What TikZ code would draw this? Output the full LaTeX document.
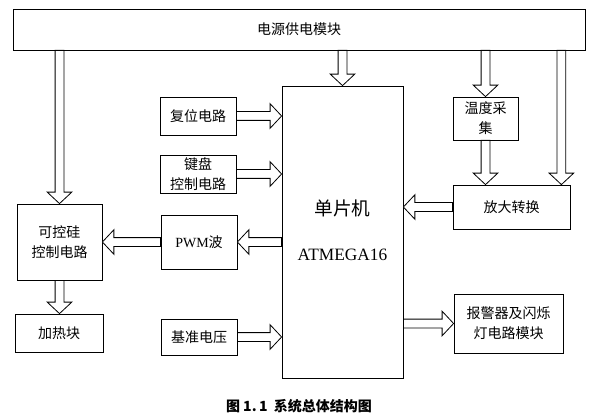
\documentclass[tikz,border=0pt]{standalone}
\usepackage{fontspec}
\newfontfamily\cjk{Noto Sans CJK SC}
\newfontfamily\lat{Liberation Serif}
\usetikzlibrary{calc}

\tikzset{
  blk/.style={draw, line width=0.6pt, align=center, inner sep=0pt},
  barrow/.style={draw, fill=white, line width=0.6pt, line join=miter}
}
% hollow block arrow from #1 to #2
\newcommand\bw{3.3pt}
\newcommand\bW{9.2pt}
\newcommand\bh{8.6pt}
\newcommand\barrow[2]{%
  \coordinate (ba) at (#1);
  \coordinate (bb) at (#2);
  \draw[barrow] ($(ba)!\bw!90:(bb)$) -- ($(bb)!\bh!(ba)!\bw!-90:(ba)$)
    -- ($(bb)!\bh!(ba)!\bW!-90:(ba)$) -- (bb)
    -- ($(bb)!\bh!(ba)!\bW!90:(ba)$) -- ($(bb)!\bh!(ba)!\bw!90:(ba)$)
    -- ($(ba)!\bw!-90:(bb)$) -- cycle;}

\begin{document}
\begin{tikzpicture}[x=0.75pt,y=-0.75pt,font=\fontsize{10.5}{15}\selectfont\cjk]
	\useasboundingbox (0,0) rectangle (596,417);
	\node[blk,minimum width=429pt,minimum height=30.75pt] (power) at (299,29.5) {电源供电模块};
	\node[blk,minimum width=90.75pt,minimum height=219pt] (mcu) at (342.5,232) {};
	\node[font=\fontsize{14}{16}\selectfont\cjk] (mcuname) at (342.5,208) {单片机};
	\node[font=\fontsize{13}{16}\selectfont\lat] (mcutype) at (342.5,255) {ATMEGA16};
	\node[blk,minimum width=57pt,minimum height=28.5pt] (reset) at (198,116) {复位电路};
	\node[blk,minimum width=57pt,minimum height=28.5pt] (keypad) at (198,174) {键盘\\控制电路};
	\node[blk,minimum width=57pt,minimum height=40.5pt] (pwm) at (199,242) {{\lat PWM}波};
	\node[blk,minimum width=57pt,minimum height=27pt] (vref) at (199,337) {基准电压};
	\node[blk,minimum width=63.75pt,minimum height=57pt] (scr) at (59.5,242) {可控硅\\控制电路};
	\node[blk,minimum width=66pt,minimum height=28.5pt] (heater) at (59,333) {加热块};
	\node[blk,minimum width=48.75pt,minimum height=32.25pt] (temp) at (485.5,118.5) {温度采\\集};
	\node[blk,minimum width=87.75pt,minimum height=33pt] (amp) at (511.5,207) {放大转换};
	\node[blk,minimum width=81.75pt,minimum height=44.25pt] (alarm) at (508.5,323.5) {报警器及闪烁\\灯电路模块};
	\node[font=\fontsize{10.5}{13}\selectfont\cjk\bfseries] (cap) at (299,406) {图\ 1.\,1\ \ 系统总体结构图};
	\coordinate (ampin) at ([xshift=-6.75pt]amp.north east);
	% power supply
	\barrow{power.south -| scr.north}{scr.north}
	\barrow{power.south -| mcu.north}{mcu.north}
	\barrow{power.south -| temp.north}{temp.north}
	\barrow{power.south -| ampin}{ampin}
	% inputs
	\barrow{temp.south}{temp.south |- amp.north}
	\barrow{amp.west}{amp.west -| mcu.east}
	\barrow{reset.east}{reset.east -| mcu.west}
	\barrow{keypad.east}{keypad.east -| mcu.west}
	\barrow{vref.east}{vref.east -| mcu.west}
	% outputs
	\barrow{mcu.west |- pwm.east}{pwm.east}
	\barrow{pwm.west}{scr.east |- pwm.west}
	\barrow{scr.south}{scr.south |- heater.north}
	\barrow{mcu.east |- alarm.west}{alarm.west}
\end{tikzpicture}
\end{document}
